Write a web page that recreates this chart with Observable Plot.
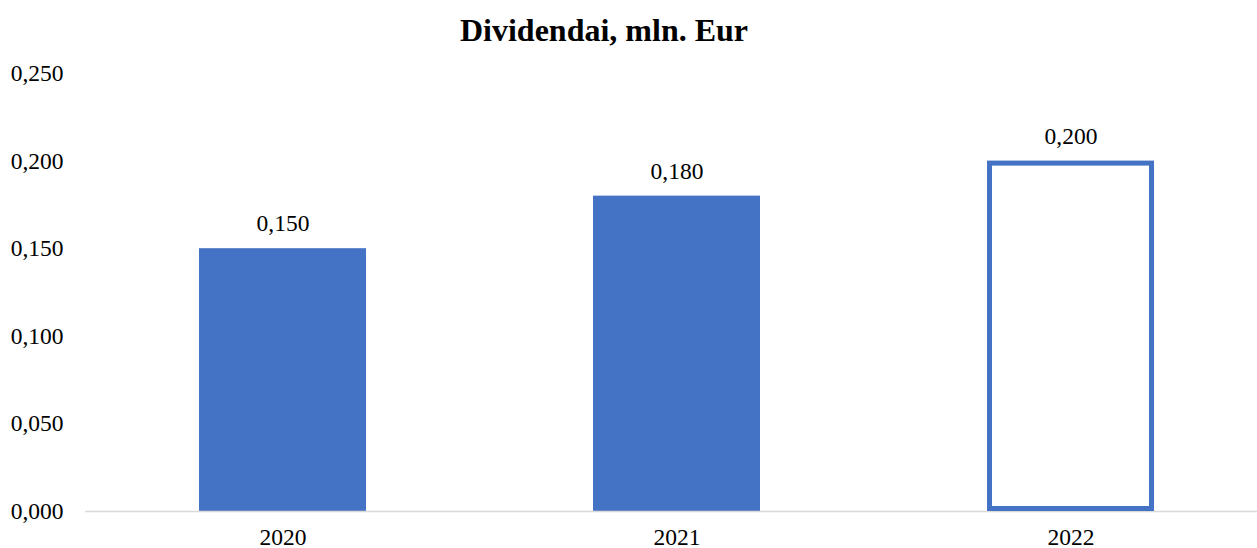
<!DOCTYPE html>
<html>
<head>
<meta charset="utf-8">
<script src="https://cdn.jsdelivr.net/npm/d3@7"></script>
<script src="https://cdn.jsdelivr.net/npm/@observablehq/plot@0.6"></script>
<style>
  html, body { margin: 0; padding: 0; background: #fff; }
  #wrap { position: relative; width: 1257px; height: 548px; overflow: hidden; }
  #title { position: absolute; left: 0; top: 0; width: 1208px; height: 50px; line-height: 60px;
           text-align: center; font-family: "Liberation Serif", "Times New Roman", serif;
           font-weight: bold; font-size: 32px; color: #000; white-space: nowrap; }
  #chart { position: absolute; left: 0; top: 50px; }
</style>
</head>
<body>
<div id="wrap">
  <div id="title">Dividendai, mln. Eur</div>
  <div id="chart"></div>
</div>
<script>
const years = ["2020", "2021", "2022"];
const values = [0.150, 0.180, 0.200];
const yTicks = [0, 0.05, 0.10, 0.15, 0.20, 0.25];
const outlinedYears = ["2022"];

const data = years.map((year, i) => ({ year, value: values[i] }));
const filled = data.filter(d => !outlinedYears.includes(d.year));
const outlined = data.filter(d => outlinedYears.includes(d.year));
const fmt = v => d3.format(".3f")(v).replace(".", ",");
const blue = "#4472c4";

const plot = Plot.plot({
  width: 1257,
  height: 498,
  marginTop: 23,
  marginBottom: 37,
  marginLeft: 85,
  marginRight: 0,
  style: { fontFamily: "'Liberation Serif', 'Times New Roman', serif", fontSize: "23.5px", color: "#000", background: "#fff", overflow: "visible" },
  x: { domain: years, range: [85, 1269], paddingInner: 0.575, paddingOuter: 0.2875, label: null, tickSize: 0, tickPadding: 17 },
  y: { domain: [0, 0.25], ticks: yTicks, tickFormat: fmt, label: null, tickSize: 0, tickPadding: 22 },
  marks: [
    Plot.barY(filled, { x: "year", y: "value", fill: blue }),
    Plot.ruleY([0], { stroke: "#d9d9d9", strokeWidth: 1.5 }),
    Plot.barY(outlined, { x: "year", y: "value", fill: "none", stroke: blue, strokeWidth: 5, inset: 2.5 }),
    Plot.text(data, { x: "year", y: "value", text: d => fmt(d.value), dy: -25, lineAnchor: "middle", fill: "#000", fontSize: 23.5 })
  ]
});
document.getElementById("chart").appendChild(plot);
</script>
</body>
</html>
